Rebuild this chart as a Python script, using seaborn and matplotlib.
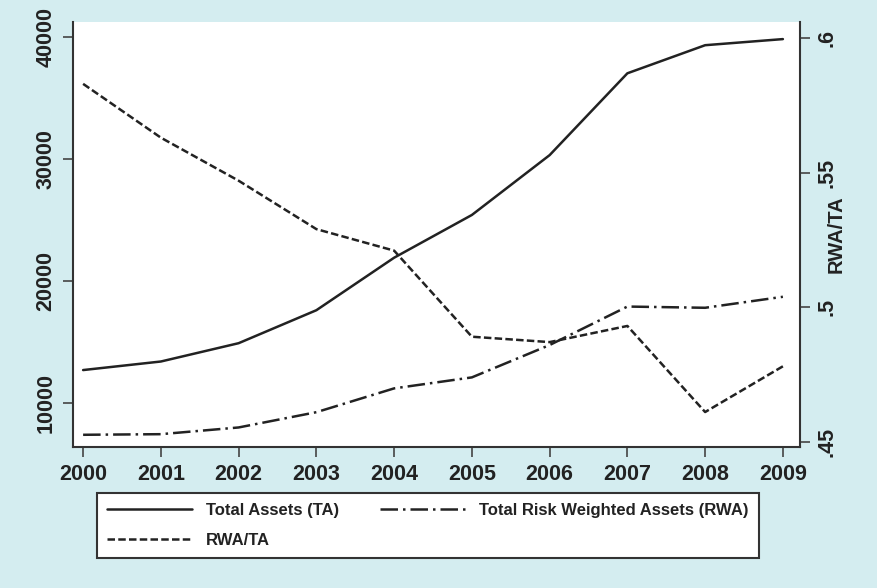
"""Total assets, risk weighted assets and RWA/TA, 2000-2009 (dual axis)."""
import matplotlib
matplotlib.use("Agg")
import matplotlib.pyplot as plt
import seaborn as sns
from matplotlib.ticker import FixedLocator, FuncFormatter

years = [2000, 2001, 2002, 2003, 2004, 2005, 2006, 2007, 2008, 2009]
total_assets = [12700, 13400, 14900, 17600, 21900, 25400, 30300, 37000, 39300, 39800]
rwa = [7400, 7450, 8000, 9250, 11200, 12100, 14750, 17900, 17800, 18700]
rwa_ta = [0.583, 0.563, 0.547, 0.529, 0.521, 0.489, 0.487, 0.493, 0.461, 0.478]

left_ticks = [10000, 20000, 30000, 40000]
right_ticks = [0.45, 0.50, 0.55, 0.60]
right_tick_labels = [".45", ".5", ".55", ".6"]

BG = "#d4edf0"
INK = "#222222"

sns.set_style("ticks")
plt.rcParams["font.family"] = ["Liberation Sans", "DejaVu Sans"]

fig = plt.figure(figsize=(8.77, 5.88), dpi=100, facecolor=BG)
ax = fig.add_axes([73 / 877, 1 - 447 / 588, 727 / 877, 425 / 588])
ax.set_facecolor("white")
ax2 = ax.twinx()

sns.lineplot(x=years, y=total_assets, ax=ax, color=INK, linewidth=1.8,
             label="Total Assets (TA)", legend=False)
sns.lineplot(x=years, y=rwa, ax=ax, color=INK, linewidth=1.8,
             linestyle=(0, (7, 2, 1, 2)),
             label="Total Risk Weighted Assets (RWA)", legend=False)
sns.lineplot(x=years, y=rwa_ta, ax=ax2, color=INK, linewidth=1.8,
             linestyle=(0, (3, 1.3)), label="RWA/TA", legend=False)

ax.set_xlim(1999.87, 2009.22)
ax.set_ylim(6400, 41200)
ax2.set_ylim(0.448, 0.606)

ax.set_xticks(years)
ax.yaxis.set_major_locator(FixedLocator(left_ticks))
ax2.yaxis.set_major_locator(FixedLocator(right_ticks))
ax2.yaxis.set_major_formatter(
    FuncFormatter(lambda v, _: dict(zip(right_ticks, right_tick_labels)).get(round(v, 2), ""))
)

tick_font = dict(fontsize=15.5, fontweight="bold", color=INK)
for lab in ax.get_xticklabels():
    lab.set(**tick_font)
for lab in ax.get_yticklabels():
    lab.set(**tick_font, rotation=90, va="center")
for lab in ax2.get_yticklabels():
    lab.set(**tick_font, rotation=90, va="center")

for a in (ax, ax2):
    a.tick_params(direction="out", length=7, width=1.2, color="#444444", pad=5)
    a.set_xlabel("")
    a.set_ylabel("")
    a.spines["top"].set_visible(False)
    for s in ("left", "right", "bottom"):
        a.spines[s].set_color("#333333")
        a.spines[s].set_linewidth(1.5)
ax.spines["right"].set_visible(False)
ax2.spines["left"].set_visible(False)
ax2.spines["bottom"].set_visible(False)

ax2.set_ylabel("RWA/TA", fontsize=14.5, fontweight="bold", color=INK, rotation=90)
ax2.yaxis.set_label_coords(1.036, 0.5)

h1, l1 = ax.get_legend_handles_labels()
h2, l2 = ax2.get_legend_handles_labels()
handles = [h1[0], h2[0], h1[1]]
labels = [l1[0], l2[0], l1[1]]
leg = fig.legend(
    handles, labels, ncol=2, loc="lower left",
    bbox_to_anchor=(97 / 877, 1 - 558 / 588), borderaxespad=0,
    prop={"size": 12, "weight": "bold"}, handlelength=5.1,
    handletextpad=0.8, columnspacing=2.5, labelspacing=0.88,
    borderpad=0.62, fancybox=False, frameon=True,
)
leg.get_frame().set_edgecolor("#333333")
leg.get_frame().set_linewidth(1.5)
leg.get_frame().set_facecolor("white")
leg.get_frame().set_alpha(1)
for t in leg.get_texts():
    t.set_color(INK)

fig.savefig("out.png", dpi=100, facecolor=BG)
